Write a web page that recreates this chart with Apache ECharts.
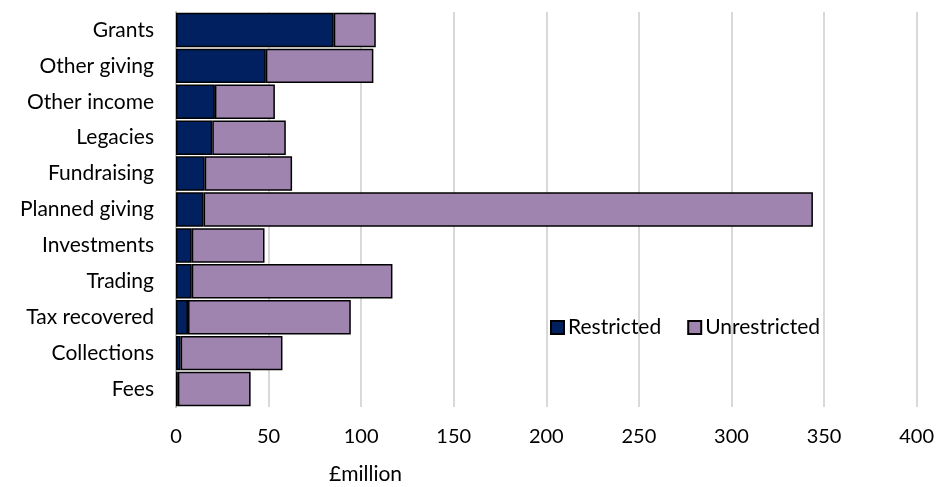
<!DOCTYPE html>
<html>
<head>
<meta charset="utf-8">
<script src="https://cdn.jsdelivr.net/npm/echarts@6/dist/echarts.min.js"></script>
<style>
  html, body { margin: 0; padding: 0; background: #fff; }
  #chart { width: 937px; height: 487px; }
</style>
</head>
<body>
<div id="chart"></div>
<script>
// Income sources, listed top to bottom
const categories = ['Grants', 'Other giving', 'Other income', 'Legacies', 'Fundraising',
  'Planned giving', 'Investments', 'Trading', 'Tax recovered', 'Collections', 'Fees'];

// £million by fund type
const restricted = [85.2, 48.5, 21.0, 19.6, 15.5, 14.9, 8.5, 8.5, 6.5, 2.5, 1.0];
const unrestricted = [22.7, 58.1, 32.4, 39.7, 47.2, 329.1, 39.3, 108.4, 87.9, 55.0, 39.3];

const xTicks = [0, 50, 100, 150, 200, 250, 300, 350, 400];

const FONT = 'Lato, "Open Sans", sans-serif';

const chart = echarts.init(document.getElementById('chart'));
chart.setOption({
  animation: false,
  textStyle: { fontFamily: FONT },
  grid: { left: 176, right: 19, top: 12, bottom: 80, containLabel: false },
  legend: {
    left: 545, top: 312,
    itemWidth: 13, itemHeight: 13, itemGap: 26,
    icon: 'rect',
    textStyle: { fontSize: 21, color: '#000', fontFamily: FONT, padding: [0, 0, 0, -1] },
    data: ['Restricted', 'Unrestricted']
  },
  xAxis: {
    type: 'value',
    min: xTicks[0], max: xTicks[xTicks.length - 1], interval: 50,
    axisLine: { show: false },
    axisTick: { show: false },
    axisLabel: { fontSize: 20, color: '#000', margin: 20, fontFamily: FONT },
    splitLine: { show: true, lineStyle: { color: '#d9d9d9', width: 2 } }
  },
  yAxis: {
    type: 'category',
    inverse: true,
    data: categories,
    axisLine: { show: true, lineStyle: { color: '#bfbfbf', width: 2 } },
    axisTick: { show: false },
    axisLabel: { fontSize: 21, color: '#000', margin: 22, fontFamily: FONT }
  },
  graphic: [{
    type: 'text',
    left: 329, top: 464,
    style: { text: '£million', fontSize: 21, fill: '#000', fontFamily: FONT }
  }],
  series: [
    {
      name: 'Restricted', type: 'bar', stack: 'total',
      barCategoryGap: '4%',
      data: restricted,
      itemStyle: { color: '#00205F', borderColor: '#000', borderWidth: 1.5 }
    },
    {
      name: 'Unrestricted', type: 'bar', stack: 'total',
      barCategoryGap: '4%',
      data: unrestricted,
      itemStyle: { color: '#A084B0', borderColor: '#000', borderWidth: 1.5 }
    }
  ]
});
</script>
</body>
</html>
